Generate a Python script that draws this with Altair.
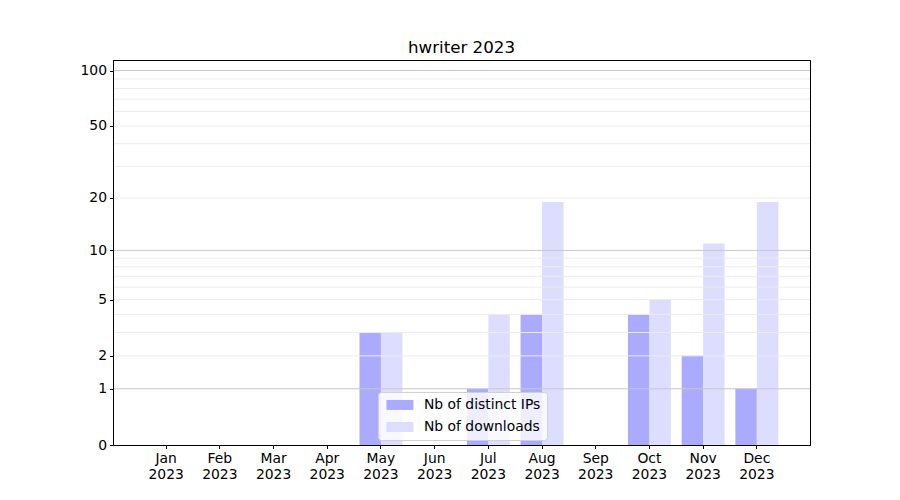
import altair as alt
import pandas as pd

# Monthly statistics for the hwriter package, 2023
months = ["Jan 2023", "Feb 2023", "Mar 2023", "Apr 2023", "May 2023", "Jun 2023",
          "Jul 2023", "Aug 2023", "Sep 2023", "Oct 2023", "Nov 2023", "Dec 2023"]
distinct_ips = [0, 0, 0, 0, 3, 0, 1, 4, 0, 4, 2, 1]
downloads = [0, 0, 0, 0, 3, 0, 4, 19, 0, 5, 11, 19]

series_names = ["Nb of distinct IPs", "Nb of downloads"]
series_colors = ["#aaaaff", "#ddddff"]

y_ticks = [0, 1, 2, 5, 10, 20, 50, 100]
major_grid = [1, 10, 100]
minor_grid = [2, 3, 4, 5, 6, 7, 8, 9, 20, 30, 40, 50, 60, 70, 80, 90]
y_max = 114

rows = []
for m, a, b in zip(months, distinct_ips, downloads):
    rows.append({"month": m, "series": series_names[0], "value": a})
    rows.append({"month": m, "series": series_names[1], "value": b})
df = pd.DataFrame(rows)

grid_df = pd.DataFrame(
    [{"value": v, "kind": "major"} for v in major_grid]
    + [{"value": v, "kind": "minor"} for v in minor_grid]
)

FONT = "DejaVu Sans"

y_scale = alt.Scale(type="symlog", constant=1, domain=[0, y_max], nice=False)

bars = alt.Chart(df).mark_bar().encode(
    x=alt.X(
        "month:N",
        sort=months,
        scale=alt.Scale(paddingInner=0.2, paddingOuter=0.59),
        axis=alt.Axis(
            title=None,
            labelAngle=0,
            labelExpr="split(datum.label, ' ')",
            labelLineHeight=16,
            labelPadding=3,
            tickSize=3.5,
            tickColor="black",
            domain=True,
            domainColor="black",
            domainWidth=1,
            grid=False,
            zindex=1,
            labelFont=FONT,
            labelFontSize=13.9,
            labelColor="black",
        ),
    ),
    xOffset=alt.XOffset("series:N", sort=series_names,
                        scale=alt.Scale(paddingInner=0, paddingOuter=0)),
    y=alt.Y(
        "value:Q",
        scale=y_scale,
        axis=alt.Axis(
            title=None,
            values=y_ticks,
            format="d",
            grid=False,
            tickSize=3.5,
            tickColor="black",
            domain=True,
            domainColor="black",
            domainWidth=1,
            zindex=1,
            labelPadding=3,
            labelFont=FONT,
            labelFontSize=13.9,
            labelColor="black",
        ),
    ),
    color=alt.Color(
        "series:N",
        sort=series_names,
        scale=alt.Scale(domain=series_names, range=series_colors),
        legend=alt.Legend(
            title=None,
            orient="none",
            legendX=265,
            legendY=332,
            symbolType="M-2.7,-1H2.7V1H-2.7Z",
            symbolSize=100,
            symbolOffset=9,
            symbolStrokeWidth=0,
            symbolOpacity=1,
            labelOffset=17,
            labelFont=FONT,
            labelFontSize=13.9,
            labelColor="black",
            rowPadding=7,
            padding=6,
            fillColor="rgba(255,255,255,0.8)",
            strokeColor="#d0d0d0",
            cornerRadius=3,
        ),
    ),
)

# Horizontal grid lines sit above the bars; the right-hand axis closes the frame
grid = alt.Chart(grid_df).mark_rule(strokeWidth=1).encode(
    y=alt.Y(
        "value:Q",
        scale=y_scale,
        axis=alt.Axis(orient="right", title=None, labels=False, ticks=False,
                      grid=False, domain=True, domainColor="black",
                      domainWidth=1, zindex=1),
    ),
    color=alt.Color(
        "kind:N",
        scale=alt.Scale(domain=["major", "minor"], range=["#c8c8c8", "#ececec"]),
        legend=None,
    ),
)

chart = (
    alt.layer(bars, grid)
    .resolve_scale(color="independent")
    .resolve_axis(y="independent")
    .properties(
        width=697,
        height=385,
        title=alt.Title("hwriter 2023", font=FONT, fontSize=16.7,
                        fontWeight="normal", color="black", offset=3),
        autosize=alt.AutoSizeParams(type="none"),
        padding={"left": 113, "top": 60, "right": 90, "bottom": 55},
    )
    .configure(background="white")
    .configure_view(stroke="black", strokeWidth=1)
)

chart.save("out.html", embed_options={"renderer": "svg", "actions": False})
